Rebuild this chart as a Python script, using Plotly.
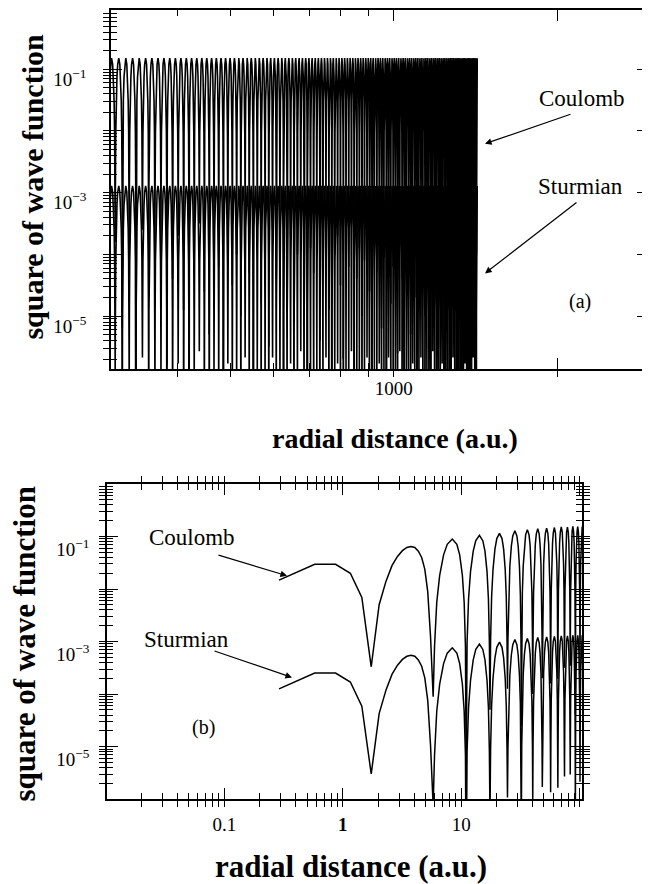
import plotly.graph_objects as go

# ---------------- panel (a): dense region, radial distance 300 .. 1425 a.u. ----------------
# positions of the nodes (dips) read along the axis
nodes_a = [298.0, 307.4, 316.8, 326.2, 335.6, 345.0, 354.4, 363.8, 373.2, 382.6,
           392.0, 401.4, 410.8, 420.2, 429.6, 439.0, 448.4, 457.8, 467.2, 476.6,
           486.0, 495.4, 504.8, 514.2, 523.6, 533.0, 542.4, 551.8, 561.2, 570.6,
           580.0, 589.4, 598.8, 608.3, 617.8, 627.3, 636.8, 646.3, 655.8, 665.3,
           674.8, 684.3, 693.8, 703.3, 712.8, 722.3, 731.8, 741.3, 750.8, 760.3,
           769.8, 779.3, 788.8, 798.3, 807.8, 817.3, 826.8, 836.3, 845.8, 855.3,
           864.8, 874.3, 883.8, 893.3, 902.8, 912.3, 921.8, 931.3, 940.8, 950.3,
           959.8, 969.3, 978.8, 988.3, 997.8, 1007.4, 1017.0, 1026.6, 1036.2, 1045.8,
           1055.4, 1065.0, 1074.6, 1084.2, 1093.8, 1103.4, 1113.0, 1122.6, 1132.2, 1141.8,
           1151.4, 1161.0, 1170.6, 1180.2, 1189.8, 1199.4, 1209.0, 1218.6, 1228.2, 1237.8,
           1247.4, 1257.0, 1266.6, 1276.2, 1285.8, 1295.4, 1305.0, 1314.6, 1324.2, 1333.8,
           1343.4, 1353.0, 1362.6, 1372.2, 1381.8, 1391.4, 1401.0, 1410.6, 1420.2, 1429.8]
# log10 of the square of the wave function at each dip
coulomb_a_dip = [-4.3, -3.8, -5.2, -4.0, -6.5, -3.6, -4.7, -4.1, -3.9, -5.8,
                 -4.4, -3.7, -4.9, -6.9, -4.0, -3.5, -4.6, -5.3, -3.9, -4.2,
                 -6.2, -3.7, -4.5, -4.0, -5.0, -3.6, -4.3, -7.0, -3.8, -4.8,
                 -4.1, -5.5, -3.6, -4.4, -3.9, -6.0, -4.2, -3.7, -5.1, -4.0,
                 -3.5, -4.7, -6.6, -3.9, -4.3, -3.8, -5.4, -4.1, -3.6, -4.9,
                 -6.3, -4.0, -3.7, -4.5, -5.7, -3.8, -4.2, -3.5, -6.8, -4.4,
                 -3.9, -5.0, -4.1, -3.6, -4.6, -5.9, -3.8, -4.3, -3.7, -5.2,
                 -4.0, -6.4, -3.6, -4.8, -4.2, -3.9, -5.6, -3.5, -4.4, -6.1,
                 -3.8, -4.1, -5.3, -3.7, -4.7, -6.7, -4.0, -3.6, -4.5, -5.0,
                 -3.9, -4.2, -6.0, -3.5, -4.8, -3.8, -5.5, -4.1, -3.7, -6.5,
                 -4.3, -3.9, -4.9, -5.8, -3.6, -4.0, -4.6, -6.2, -3.8, -4.4,
                 -5.1, -3.7, -4.2, -6.9, -3.9, -4.5, -3.6, -5.4, -4.0, -4.2]
sturmian_a_dip = [-6.37, -5.87, -7.27, -6.07, -8.57, -5.67, -6.77, -6.17, -5.97, -7.87,
                  -6.47, -5.77, -6.97, -8.97, -6.07, -5.57, -6.67, -7.37, -5.97, -6.27,
                  -8.27, -5.77, -6.57, -6.07, -7.07, -5.67, -6.37, -9.07, -5.87, -6.87,
                  -6.17, -7.57, -5.67, -6.47, -5.97, -8.07, -6.27, -5.77, -7.17, -6.07,
                  -5.57, -6.77, -8.67, -5.97, -6.37, -5.87, -7.47, -6.17, -5.67, -6.97,
                  -8.37, -6.07, -5.77, -6.57, -7.77, -5.87, -6.27, -5.57, -8.87, -6.47,
                  -5.97, -7.07, -6.17, -5.67, -6.67, -7.97, -5.87, -6.37, -5.77, -7.27,
                  -6.07, -8.47, -5.67, -6.87, -6.27, -5.97, -7.67, -5.57, -6.47, -8.17,
                  -5.87, -6.17, -7.37, -5.77, -6.77, -8.77, -6.07, -5.67, -6.57, -7.07,
                  -5.97, -6.27, -8.07, -5.57, -6.87, -5.87, -7.57, -6.17, -5.77, -8.57,
                  -6.37, -5.97, -6.97, -7.87, -5.67, -6.07, -6.67, -8.27, -5.87, -6.47,
                  -7.17, -5.77, -6.27, -8.97, -5.97, -6.57, -5.67, -7.47, -6.07, -6.27]
coulomb_a_peak = -0.82
sturmian_a_peak = -2.89
end_a = 1425.0

# ---------------- panel (b): 0.29 .. 100 a.u. ----------------
start_r_b = [0.29, 0.58, 0.87, 1.16, 1.45, 1.74, 2.03, 2.32, 2.61, 2.90,
             3.19, 3.48, 3.77, 4.06, 4.35, 4.64, 4.93, 5.22, 5.51]
coulomb_b_start = [-1.83, -1.53, -1.53, -1.70, -2.16, -3.48, -2.30, -1.85, -1.55, -1.38,
                   -1.27, -1.21, -1.19, -1.21, -1.28, -1.40, -1.62, -2.05, -2.90]
sturmian_b_start = [-3.90, -3.60, -3.60, -3.77, -4.23, -5.52, -4.37, -3.92, -3.62, -3.45,
                    -3.34, -3.28, -3.26, -3.28, -3.35, -3.47, -3.69, -4.12, -4.97]
nodes_b = [5.80, 11.02, 17.5, 24.6, 32.2, 40.2, 48.4, 56.9, 65.5, 74.5, 83.3, 92.0, 100.7, 109.4]
coulomb_b_dip = [-4.05, -5.63, -4.3, -3.9, -4.6, -4.0, -3.7, -3.8, -3.71, -3.5, -3.46, -4.4, -3.6, -4.0]
sturmian_b_dip = [-6.12, -7.70, -6.37, -5.97, -6.67, -6.07, -5.77, -5.87, -5.78, -5.57, -5.53, -6.47, -5.67, -6.07]
coulomb_b_peak = [-1.05, -0.98, -0.94, -0.89, -0.87, -0.85, -0.84, -0.83, -0.82, -0.82, -0.81, -0.81, -0.81]
sturmian_b_peak = [-3.12, -3.05, -3.01, -2.96, -2.94, -2.92, -2.91, -2.90, -2.89, -2.89, -2.88, -2.88, -2.88]

# arch profile between two dips (fraction of the dip-to-dip interval, decades below the peak),
# read from the wide first arches of panel (b)
arch_frac = [0.03, 0.08, 0.15, 0.25, 0.35, 0.5, 0.65, 0.75, 0.85, 0.92, 0.97]
arch_rel = [-2.05, -1.21, -0.69, -0.30, -0.10, 0.0, -0.10, -0.30, -0.69, -1.21, -2.05]


def build(nodes, dips, peaks, end=None):
    xs, ys = [], []
    for j in range(len(nodes) - 1):
        pk = peaks[j] if isinstance(peaks, list) else peaks
        xs.append(nodes[j])
        ys.append(10 ** dips[j])
        gap = nodes[j + 1] - nodes[j]
        for f, r in zip(arch_frac, arch_rel):
            x = nodes[j] + f * gap
            if end is not None and x > end + 1e-6:
                return xs, ys
            xs.append(x)
            ys.append(10 ** (pk + r))
    if end is None:
        xs.append(nodes[-1])
        ys.append(10 ** dips[-1])
    return xs, ys


ca_x, ca_y = build(nodes_a, coulomb_a_dip, coulomb_a_peak, end_a)
sa_x, sa_y = build(nodes_a, sturmian_a_dip, sturmian_a_peak, end_a)
cb_x, cb_y = build(nodes_b, coulomb_b_dip, coulomb_b_peak)
sb_x, sb_y = build(nodes_b, sturmian_b_dip, sturmian_b_peak)
cb_x = start_r_b + cb_x
cb_y = [10 ** v for v in coulomb_b_start] + cb_y
sb_x = start_r_b + sb_x
sb_y = [10 ** v for v in sturmian_b_start] + sb_y

# the page body adds an 8 px margin, so the figure is placed at (8, 8) in the window
OFF = 8
W, H = 650 - OFF, 884 - OFF
SERIF = "Liberation Serif, Times New Roman, serif"


def dx(a, b):
    return [(a - OFF) / W, (b - OFF) / W]


def dy(top, bottom):
    return [1 - (bottom - OFF) / H, 1 - (top - OFF) / H]


XA_DOM, YA_DOM = dx(111, 648), dy(8, 368)
XB_DOM, YB_DOM = dx(107, 582), dy(483, 799)
XA_RNG, YA_RNG = [2.48, 3.468], [-5.86, -0.04]
XB_RNG, YB_RNG = [-1.99, 2.02], [-6.0, 0.0]

fig = go.Figure()
fig.add_trace(go.Scatter(x=ca_x, y=ca_y, mode="lines", line=dict(color="black", width=1.6),
                         xaxis="x", yaxis="y", showlegend=False, hoverinfo="skip"))
fig.add_trace(go.Scatter(x=sa_x, y=sa_y, mode="lines", line=dict(color="black", width=1.6),
                         xaxis="x", yaxis="y", showlegend=False, hoverinfo="skip"))
fig.add_trace(go.Scatter(x=cb_x, y=cb_y, mode="lines", line=dict(color="black", width=1.5),
                         xaxis="x2", yaxis="y2", showlegend=False, hoverinfo="skip"))
fig.add_trace(go.Scatter(x=sb_x, y=sb_y, mode="lines", line=dict(color="black", width=1.5),
                         xaxis="x2", yaxis="y2", showlegend=False, hoverinfo="skip"))
# invisible carriers for the overlay axes that lengthen the decade ticks
for xa, ya, xv, yv in [("x", "y3", 1000, 0.01), ("x3", "y", 1000, 0.01),
                       ("x2", "y4", 1, 0.01), ("x4", "y2", 1, 0.01)]:
    fig.add_trace(go.Scatter(x=[xv], y=[yv], mode="markers", marker=dict(opacity=0, size=1),
                             xaxis=xa, yaxis=ya, showlegend=False, hoverinfo="skip"))

# tick positions and labels
y_labels = {-1: "10<sup>\u22121</sup>", -3: "10<sup>\u22123</sup>", -5: "10<sup>\u22125</sup>"}
y_vals, y_text = [], []
for e in range(0, -7, -1):
    y_vals.append(10.0 ** e)
    y_text.append(y_labels.get(e, ""))
    for m in range(2, 10):
        y_vals.append(m * 10.0 ** (e - 1))
        y_text.append("")
xa_vals = [400, 500, 600, 700, 800, 900, 1000, 2000, 3000]
xa_text = ["", "", "", "", "", "", "1000", "", ""]
xb_labels = {-1: "0.1", 0: "<b>1</b>", 1: "10"}
xb_vals, xb_text = [], []
for e in range(-2, 3):
    xb_vals.append(10.0 ** e)
    xb_text.append(xb_labels.get(e, ""))
    if e < 2:
        for m in range(2, 10):
            xb_vals.append(m * 10.0 ** e)
            xb_text.append("")
dec_vals = [10.0 ** e for e in range(0, -7, -1)]

axis_common = dict(showline=True, linecolor="black", linewidth=1.5, mirror="allticks",
                   ticks="inside", tickcolor="black", tickwidth=1.2, ticklen=6,
                   showgrid=False, zeroline=False, tickmode="array", type="log",
                   tickfont=dict(family=SERIF, size=19, color="black"))
long_common = dict(type="log", showline=False, mirror="allticks", ticks="inside",
                   tickcolor="black", tickwidth=1.3, ticklen=11, showgrid=False,
                   zeroline=False, showticklabels=False, tickmode="array")

fig.update_layout(
    width=W, height=H,
    margin=dict(l=0, r=0, t=0, b=0),
    paper_bgcolor="white", plot_bgcolor="white",
    xaxis=dict(domain=XA_DOM, range=XA_RNG, tickvals=xa_vals, ticktext=xa_text,
               ticklabelstandoff=1, anchor="y", **axis_common),
    yaxis=dict(domain=YA_DOM, range=YA_RNG, tickvals=y_vals, ticktext=y_text,
               ticklabelstandoff=19, ticklabelshift=10, anchor="x", **axis_common),
    xaxis2=dict(domain=XB_DOM, range=XB_RNG, tickvals=xb_vals, ticktext=xb_text,
                ticklabelstandoff=7, anchor="y2", **axis_common),
    yaxis2=dict(domain=YB_DOM, range=YB_RNG, tickvals=y_vals, ticktext=y_text,
                ticklabelstandoff=12, ticklabelshift=13, anchor="x2", **axis_common),
    xaxis3=dict(domain=XA_DOM, range=XA_RNG, tickvals=[1000, 2000],
                overlaying="x", anchor="y", side="bottom", **long_common),
    yaxis3=dict(domain=YA_DOM, range=YA_RNG, tickvals=dec_vals,
                overlaying="y", anchor="x", side="left", **long_common),
    xaxis4=dict(domain=XB_DOM, range=XB_RNG, tickvals=[0.01, 0.1, 1, 10, 100],
                overlaying="x2", anchor="y2", side="bottom", **long_common),
    yaxis4=dict(domain=YB_DOM, range=YB_RNG, tickvals=dec_vals,
                overlaying="y2", anchor="x2", side="left", **long_common),
)


def px(xp, yp):
    return (xp - OFF) / W, 1 - (yp - OFF) / H


annots = []


def text(xp, yp, s, size, bold=False, angle=0):
    x, y = px(xp, yp)
    annots.append(dict(x=x, y=y, xref="paper", yref="paper", text=("<b>%s</b>" % s) if bold else s,
                       showarrow=False, xanchor="center", yanchor="middle", textangle=angle,
                       font=dict(family=SERIF, size=size, color="black")))


def arrow(tail, tip):
    x, y = px(*tip)
    annots.append(dict(x=x, y=y, xref="paper", yref="paper", text="", showarrow=True,
                       ax=tail[0] - tip[0], ay=tail[1] - tip[1], axref="pixel", ayref="pixel",
                       arrowhead=2, arrowsize=1.1, arrowwidth=1.2, arrowcolor="black", standoff=0))


# panel (a) labels
text(582, 97, "Coulomb", 23)
text(580, 185, "Sturmian", 23)
text(580, 300, "(a)", 20)
arrow((572, 112), (485, 142))
arrow((578, 200), (485, 272))
text(395, 437, "radial distance (a.u.)", 28, bold=True)
text(33, 185, "square of wave function", 30, bold=True, angle=-90)

# panel (b) labels
text(192, 537, "Coulomb", 23)
text(187, 639, "Sturmian", 23)
text(203, 727, "(b)", 20)
arrow((217, 554), (287, 575))
arrow((213, 650), (292, 677))
text(351, 866, "radial distance (a.u.)", 31, bold=True)
text(25, 644, "square of wave function", 31, bold=True, angle=-90)

fig.update_layout(annotations=annots)
fig.write_html("out.html")
